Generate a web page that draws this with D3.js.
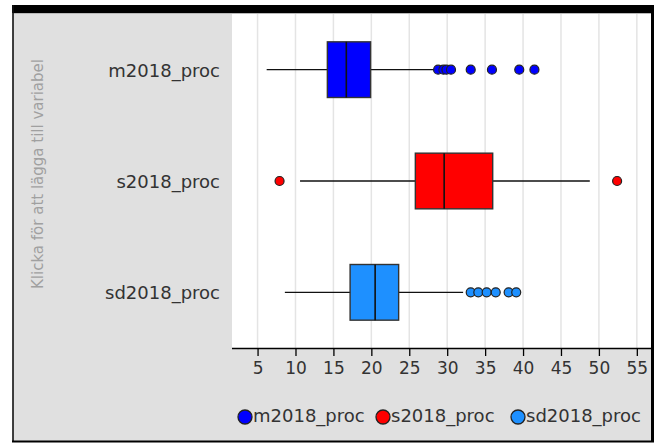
<!DOCTYPE html>
<html>
<head>
<meta charset="utf-8">
<script src="https://cdn.jsdelivr.net/npm/d3@7"></script>
<style>
  html, body { margin: 0; padding: 0; background: #ffffff; }
  svg { display: block; }
  text { font-family: "DejaVu Sans", sans-serif; }
</style>
</head>
<body>
<svg id="chart" width="661" height="443"></svg>
<script>
// Box plot summaries per variable
const categories = ["m2018_proc", "s2018_proc", "sd2018_proc"];
const whiskerLow = [6.2, 10.6, 8.6];
const q1 = [14.2, 25.8, 17.2];
const median = [16.7, 29.6, 20.5];
const q3 = [19.9, 36.0, 23.6];
const whiskerHigh = [28.4, 48.8, 32.1];
const outliers = [
  [28.8, 29.5, 29.9, 30.5, 33.1, 35.9, 39.5, 41.5],
  [7.9, 52.4],
  [33.1, 34.1, 35.2, 36.4, 38.1, 39.1]
];
const seriesColors = ["#0000ff", "#ff0000", "#1e90ff"];
const tickValues = [5, 10, 15, 20, 25, 30, 35, 40, 45, 50, 55];
const sideLabel = "Klicka för att lägga till variabel";

const svg = d3.select("#chart");

const plot = { left: 232, right: 652, top: 14, bottom: 348 };

// Panel background and frame
svg.append("rect").attr("x", 13).attr("y", 5).attr("width", 640).attr("height", 437)
  .attr("fill", "#e0e0e0");
svg.append("rect").attr("x", plot.left).attr("y", plot.top)
  .attr("width", plot.right - plot.left).attr("height", plot.bottom - plot.top)
  .attr("fill", "#ffffff");

const x = d3.scaleLinear().domain([1.63, 57.0]).range([plot.left, plot.right]);
const y = d3.scaleBand().domain(categories).range([plot.top, plot.bottom]).padding(0);
const boxH = y.bandwidth() * 0.5;

// Vertical grid lines
svg.append("g").selectAll("line").data(tickValues).join("line")
  .attr("x1", d => x(d)).attr("x2", d => x(d))
  .attr("y1", plot.top).attr("y2", plot.bottom)
  .attr("stroke", "#e4e4e4").attr("stroke-width", 1.5);

// Axis
const axis = d3.axisBottom(x).tickValues(tickValues).tickSize(8).tickPadding(6)
  .tickFormat(d3.format("d"));
const gAxis = svg.append("g").attr("transform", `translate(0,${plot.bottom})`).call(axis);
gAxis.select(".domain").attr("d", `M${plot.left},0.5H${plot.right}`)
  .attr("stroke", "#000").attr("stroke-width", 1.5);
gAxis.selectAll(".tick line").attr("stroke", "#000").attr("stroke-width", 1.3);
gAxis.selectAll(".tick text").attr("font-size", 17).attr("fill", "#333")
  .attr("font-family", "DejaVu Sans");

// Boxes
const rows = categories.map((c, i) => ({
  name: c, lo: whiskerLow[i], q1: q1[i], med: median[i], q3: q3[i], hi: whiskerHigh[i],
  out: outliers[i], color: seriesColors[i]
}));

const g = svg.append("g").selectAll("g").data(rows).join("g")
  .attr("transform", d => `translate(0,${y(d.name) + y.bandwidth() / 2})`);

g.append("line")
  .attr("x1", d => x(d.lo)).attr("x2", d => x(d.hi))
  .attr("y1", 0).attr("y2", 0)
  .attr("stroke", "#111").attr("stroke-width", 1.4);

g.append("rect")
  .attr("x", d => x(d.q1)).attr("width", d => x(d.q3) - x(d.q1))
  .attr("y", -boxH / 2).attr("height", boxH)
  .attr("fill", d => d.color).attr("stroke", "#333").attr("stroke-width", 1.4);

g.append("line")
  .attr("x1", d => x(d.med)).attr("x2", d => x(d.med))
  .attr("y1", -boxH / 2).attr("y2", boxH / 2)
  .attr("stroke", "#111").attr("stroke-width", 1.6);

g.each(function (d) {
  d3.select(this).selectAll("circle").data(d.out).join("circle")
    .attr("cx", v => x(v)).attr("cy", 0).attr("r", 4.5)
    .attr("fill", d.color).attr("stroke", "#222").attr("stroke-width", 1.2);
});

// Category labels
svg.append("g").selectAll("text").data(categories).join("text")
  .attr("x", 220).attr("y", d => y(d) + y.bandwidth() / 2 + 2)
  .attr("text-anchor", "end").attr("dominant-baseline", "middle")
  .attr("font-size", 18).attr("fill", "#333")
  .text(d => d);

// Rotated side label
svg.append("text")
  .attr("transform", "translate(43,174) rotate(-90)")
  .attr("text-anchor", "middle")
  .attr("font-size", 15).attr("fill", "#a0a0a0")
  .text(sideLabel);

// Legend
const legendX = [245, 383, 518];
const lg = svg.append("g").selectAll("g").data(categories).join("g")
  .attr("transform", (d, i) => `translate(${legendX[i]},417)`);
lg.append("circle").attr("r", 7)
  .attr("fill", (d, i) => seriesColors[i]).attr("stroke", "#222").attr("stroke-width", 1.3);
lg.append("text").attr("x", 8).attr("y", 0).attr("dominant-baseline", "middle")
  .attr("font-size", 18).attr("fill", "#333").text(d => d);

// Frame borders
svg.append("rect").attr("x", 12).attr("y", 5).attr("width", 642).attr("height", 8).attr("fill", "#000");
svg.append("line").attr("x1", 13).attr("x2", 651).attr("y1", 13.5).attr("y2", 13.5)
  .attr("stroke", "#b8b8b8").attr("stroke-width", 1);
svg.append("line").attr("x1", 13).attr("x2", 13).attr("y1", 5).attr("y2", 442)
  .attr("stroke", "#111").attr("stroke-width", 1.6);
svg.append("line").attr("x1", 652.5).attr("x2", 652.5).attr("y1", 5).attr("y2", 442)
  .attr("stroke", "#000").attr("stroke-width", 3);
svg.append("line").attr("x1", 12).attr("x2", 654).attr("y1", 441.5).attr("y2", 441.5)
  .attr("stroke", "#000").attr("stroke-width", 2);
</script>
</body>
</html>
